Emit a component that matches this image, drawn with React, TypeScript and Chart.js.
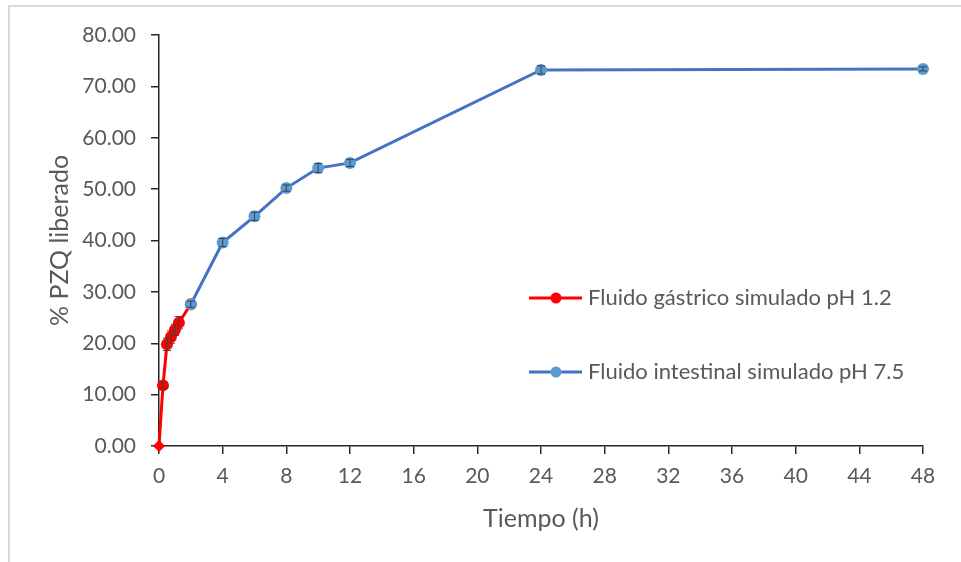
import React, { useEffect, useRef } from "react";
import { Chart, registerables } from "chart.js";

Chart.register(...registerables);

// Simulated gastric fluid (pH 1.2)
const gastricTimes = [0, 0.25, 0.5, 0.75, 1, 1.25, 2];
const gastricRelease = [0, 11.8, 19.8, 21.2, 22.6, 24.0, 27.6];
const gastricError = [0, 0.6, 1.2, 1.2, 1.1, 1.2, 0];

// Simulated intestinal fluid (pH 7.5)
const intestinalTimes = [2, 4, 6, 8, 10, 12, 24, 48];
const intestinalRelease = [27.6, 39.6, 44.7, 50.2, 54.1, 55.1, 73.2, 73.4];
const intestinalError = [0.6, 0.8, 0.8, 0.6, 0.9, 0.7, 0.8, 0.4];

const seriesNames = ["Fluido gástrico simulado pH 1.2", "Fluido intestinal simulado pH 7.5"];

const xTicks = [0, 4, 8, 12, 16, 20, 24, 28, 32, 36, 40, 44, 48];
const yMax = 80;
const yStep = 10;

const FONT = "Lato, 'Open Sans', sans-serif";
const TEXT = "#595959";
const RED = "#FF0000";
const BLUE_LINE = "#4472C4";
const BLUE_MARK = "#5B9BD5";

const errorBars = {
  id: "errorBars",
  afterDatasetsDraw(chart: any) {
    const { ctx } = chart;
    const yScale = chart.scales.y;
    chart.data.datasets.forEach((ds: any, i: number) => {
      const meta = chart.getDatasetMeta(i);
      const errs: number[] = ds.errors || [];
      meta.data.forEach((pt: any, j: number) => {
        const e = errs[j];
        if (!e) return;
        const v = ds.data[j].y;
        const yTop = yScale.getPixelForValue(v + e);
        const yBot = yScale.getPixelForValue(v - e);
        const x = pt.x;
        ctx.save();
        ctx.strokeStyle = "#404040";
        ctx.lineWidth = 1;
        ctx.beginPath();
        ctx.moveTo(x, yTop);
        ctx.lineTo(x, yBot);
        ctx.moveTo(x - 4, yTop);
        ctx.lineTo(x + 4, yTop);
        ctx.moveTo(x - 4, yBot);
        ctx.lineTo(x + 4, yBot);
        ctx.stroke();
        ctx.restore();
      });
    });
  },
};

const insideLegend = {
  id: "insideLegend",
  afterDraw(chart: any) {
    const { ctx } = chart;
    const items = [
      { label: seriesNames[0], line: RED, mark: RED, y: 298 },
      { label: seriesNames[1], line: BLUE_LINE, mark: BLUE_MARK, y: 372 },
    ];
    ctx.save();
    items.forEach((it) => {
      ctx.strokeStyle = it.line;
      ctx.lineWidth = 3;
      ctx.beginPath();
      ctx.moveTo(529, it.y);
      ctx.lineTo(582, it.y);
      ctx.stroke();
      ctx.fillStyle = it.mark;
      ctx.beginPath();
      ctx.arc(556, it.y, 5.5, 0, Math.PI * 2);
      ctx.fill();
      ctx.fillStyle = TEXT;
      ctx.font = `22px ${FONT}`;
      ctx.textBaseline = "middle";
      ctx.textAlign = "left";
      ctx.fillText(it.label, 588, it.y);
    });
    ctx.restore();
  },
};

export default function App() {
  const canvasRef = useRef<HTMLCanvasElement>(null);

  useEffect(() => {
    if (!canvasRef.current) return;
    const chart = new Chart(canvasRef.current, {
      type: "line",
      data: {
        datasets: [
          {
            label: seriesNames[0],
            data: gastricTimes.map((t, i) => ({ x: t, y: gastricRelease[i] })),
            errors: gastricError,
            borderColor: RED,
            backgroundColor: RED,
            borderWidth: 3,
            pointRadius: 6,
            pointStyle: gastricTimes.map((_, i) => (i === 0 ? "rectRot" : "circle")),
            pointBorderWidth: 0,
            order: 1,
          } as any,
          {
            label: seriesNames[1],
            data: intestinalTimes.map((t, i) => ({ x: t, y: intestinalRelease[i] })),
            errors: intestinalError,
            borderColor: BLUE_LINE,
            backgroundColor: BLUE_MARK,
            borderWidth: 3,
            pointRadius: 6,
            pointBorderWidth: 0,
            order: 0,
          } as any,
        ],
      },
      options: {
        animation: false,
        responsive: false,
        clip: false as any,
        layout: { padding: { top: 35, right: 38, left: 0, bottom: 0 } },
        plugins: { legend: { display: false }, tooltip: { enabled: false } },
        scales: {
          x: {
            type: "linear",
            min: 0,
            max: 48,
            afterBuildTicks: (axis: any) => {
              axis.ticks = xTicks.map((v) => ({ value: v }));
            },
            afterFit: (axis: any) => {
              axis.height = 116;
            },
            grid: { drawOnChartArea: false, tickLength: 8, color: "#262626", lineWidth: 1.5 },
            border: { color: "#262626", width: 1.5 },
            ticks: {
              color: TEXT,
              font: { family: FONT, size: 21 },
              padding: 10,
              maxRotation: 0,
              autoSkip: false,
            },
            title: {
              display: true,
              text: "Tiempo (h)",
              color: TEXT,
              font: { family: FONT, size: 25 },
              padding: { top: 0, bottom: 28 },
            },
          },
          y: {
            min: 0,
            max: yMax,
            afterFit: (axis: any) => {
              axis.width = 159;
            },
            grid: { drawOnChartArea: false, tickLength: 8, color: "#262626", lineWidth: 1.5 },
            border: { color: "#262626", width: 1.5 },
            ticks: {
              stepSize: yStep,
              color: TEXT,
              font: { family: FONT, size: 21 },
              padding: 15,
              callback: (v: any) => Number(v).toFixed(2),
            },
            title: {
              display: true,
              text: "% PZQ liberado",
              color: TEXT,
              font: { family: FONT, size: 25 },
              padding: { top: 45, bottom: 0 },
            },
          },
        },
      },
      plugins: [errorBars, insideLegend],
    });
    return () => chart.destroy();
  }, []);

  return (
    <div style={{ position: "absolute", left: 0, top: 0, width: 961, height: 562, background: "#fff", overflow: "hidden" }}>
      <div
        style={{
          position: "absolute",
          left: 8,
          top: 5,
          width: 1000,
          height: 600,
          borderTop: "2px solid #d9d9d9",
          borderLeft: "2px solid #d9d9d9",
        }}
      />
      <canvas ref={canvasRef} width={961} height={562} style={{ position: "absolute", left: 0, top: 0 }} />
    </div>
  );
}
